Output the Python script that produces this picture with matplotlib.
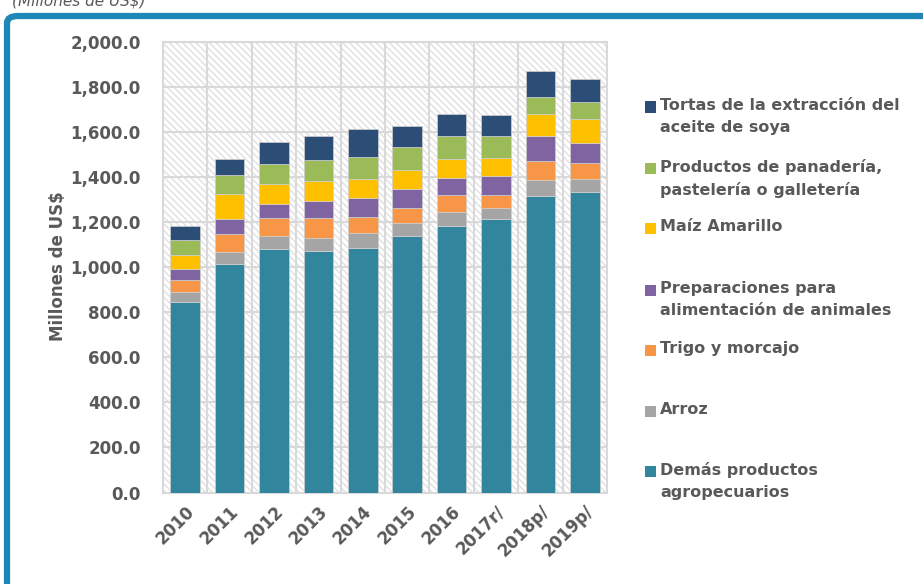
import numpy as np
import matplotlib.pyplot as plt
from matplotlib.patches import Rectangle, FancyBboxPatch

# data (millones de US$)
years = ['2010', '2011', '2012', '2013', '2014', '2015', '2016', '2017r/', '2018p/', '2019p/']
demas = [847, 1014, 1081, 1072, 1084, 1140, 1185, 1214, 1318, 1335]
arroz = [44, 55, 59, 59, 67, 58, 62, 50, 69, 55]
trigo = [52, 79, 77, 86, 73, 66, 74, 55, 85, 74]
preparaciones = [49, 65, 64, 77, 83, 83, 74, 88, 112, 89]
maiz = [64, 112, 87, 88, 83, 85, 87, 78, 98, 107]
panaderia = [65, 83, 90, 95, 98, 103, 102, 99, 74, 74]
tortas = [62, 71, 98, 106, 126, 91, 98, 91, 114, 103]

series = [demas, arroz, trigo, preparaciones, maiz, panaderia, tortas]
labels = ['Demás productos\nagropecuarios', 'Arroz', 'Trigo y morcajo',
          'Preparaciones para\nalimentación de animales', 'Maíz Amarillo',
          'Productos de panadería,\npastelería o galletería',
          'Tortas de la extracción del\naceite de soya']
colors = ['#31859C', '#A5A5A5', '#F79646', '#8064A2', '#FFC000', '#9BBB59', '#2C4D75']

txt_color = '#595959'
grid_color = '#D9D9D9'

fig = plt.figure(figsize=(9.23, 5.84), dpi=100)
ax = fig.add_axes([163/923, 91.5/584, 444/923, 450.5/584])

# hatched plot area
ax.patch.set_facecolor('white')
ax.patch.set_edgecolor('#E0E0E0')
ax.patch.set_hatch('\\\\\\\\\\')
ax.patch.set_linewidth(0)

x = np.arange(len(years))
bottom = np.zeros(len(years))
for vals, col in zip(series, colors):
    ax.bar(x, vals, width=0.67, bottom=bottom, color=col,
           edgecolor='#D0D0D0', linewidth=0.5, zorder=3)
    bottom += np.array(vals)

ax.set_xlim(-0.5, len(years) - 0.5)
ax.set_ylim(0, 2000)
ax.set_yticks(np.arange(0, 2001, 200))
ax.set_yticklabels([f'{v:,.1f}' for v in np.arange(0, 2001, 200)])
ax.set_xticks(x)
ax.set_xticklabels(years, rotation=45, ha='right', rotation_mode='anchor')
ax.set_xticks(np.arange(0.5, len(years) - 0.5, 1), minor=True)

ax.grid(axis='y', which='major', color=grid_color, linewidth=1.5, zorder=1)
ax.grid(axis='x', which='minor', color=grid_color, linewidth=1.5, zorder=1)
ax.set_axisbelow(True)
for s in ax.spines.values():
    s.set_color(grid_color)
    s.set_linewidth(1.5)

ax.tick_params(axis='both', which='both', length=0, colors=txt_color,
               labelsize=12)
for lab in ax.get_yticklabels() + ax.get_xticklabels():
    lab.set_fontweight('bold')
ax.tick_params(axis='y', pad=16)
ax.tick_params(axis='x', pad=7)

fig.text(58/923, 1 - 266/584, 'Millones de US$', rotation=90, ha='center',
         va='center', fontsize=12, fontweight='bold', color=txt_color)

# legend, top entry first, marker aligned with first text line
leg_y = [107, 168, 228, 290, 350, 411, 471]
for i, (lab, col) in enumerate(zip(labels[::-1], colors[::-1])):
    yy = 1 - leg_y[i] / 584
    fig.patches.append(Rectangle((645/923, yy - 5.5/584), 11/923, 11/584,
                                 transform=fig.transFigure, facecolor=col,
                                 edgecolor='none'))
    fig.text(660/923, yy + 9/584, lab, ha='left', va='top', fontsize=11.5,
             fontweight='bold', color=txt_color, linespacing=1.55)

# blue frame and clipped caption
fig.patches.append(FancyBboxPatch((7/923, -0.1), 1.1, 1 - 16/584 + 0.1,
                                  boxstyle='round,pad=0,rounding_size=0.012',
                                  transform=fig.transFigure, facecolor='none',
                                  edgecolor='#1F87B5', linewidth=4.5))
fig.text(12/923, 1 - 5/584, '(Millones de US$)', ha='left', va='baseline',
         fontsize=11, fontstyle='italic', color=txt_color)

fig.savefig('out.png', dpi=100)
